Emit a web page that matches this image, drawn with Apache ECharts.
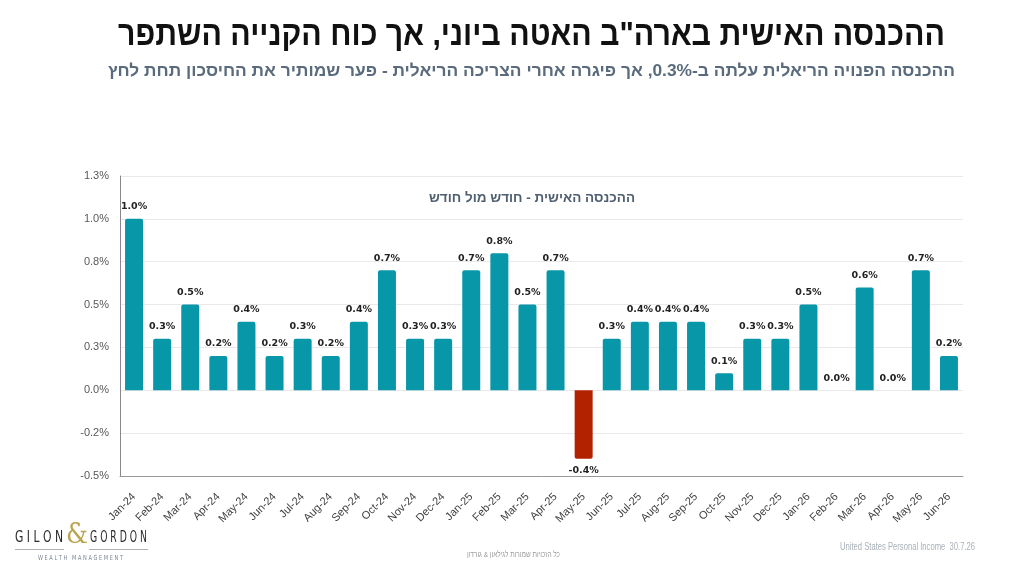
<!DOCTYPE html>
<html><head><meta charset="utf-8">
<script src="https://cdn.jsdelivr.net/npm/echarts@6/dist/echarts.min.js"></script>
<style>html,body{margin:0;padding:0;background:#fff}#c{width:1024px;height:576px}</style>
</head><body><div id="c"></div>
<script>
const categories = ['Jan-24','Feb-24','Mar-24','Apr-24','May-24','Jun-24','Jul-24','Aug-24','Sep-24','Oct-24','Nov-24','Dec-24',
  'Jan-25','Feb-25','Mar-25','Apr-25','May-25','Jun-25','Jul-25','Aug-25','Sep-25','Oct-25','Nov-25','Dec-25',
  'Jan-26','Feb-26','Mar-26','Apr-26','May-26','Jun-26'];
const values = [1.0,0.3,0.5,0.2,0.4,0.2,0.3,0.2,0.4,0.7,0.3,0.3,
  0.7,0.8,0.5,0.7,-0.4,0.3,0.4,0.4,0.4,0.1,0.3,0.3,
  0.5,0.0,0.6,0.0,0.7,0.2];
const yTickValues = [-0.5,-0.25,0,0.25,0.5,0.75,1.0,1.25];
const yTickLabels = ['-0.5%','-0.2%','0.0%','0.3%','0.5%','0.8%','1.0%','1.3%'];
const mainTitle = 'ההכנסה האישית בארה"ב האטה ביוני, אך כוח הקנייה השתפר';
const subTitle = 'ההכנסה הפנויה הריאלית עלתה ב-0.3%, אך פיגרה אחרי הצריכה הריאלית - פער שמותיר את החיסכון תחת לחץ';
const chartTitle = 'ההכנסה האישית - חודש מול חודש';
const sourceText = 'United States Personal Income  30.7.26';
const rightsText = 'כל הזכויות שמורות לגילאון & גורדון';
const logoLeft = 'G I L O N', logoAmp = '&', logoRight = 'G O R D O N', logoSub = 'W E A L T H   M A N A G E M E N T';

const RLE = '\u202B', PDF = '\u202C';
const rtl = s => RLE + s + PDF;
const yMin = -0.5, yMax = 1.25, yInt = 0.25;

const ctx = document.createElement('canvas').getContext('2d');
function measure(text, size, family, weight) {
  ctx.font = (weight || 'normal') + ' ' + size + 'px "' + family + '"';
  return ctx.measureText(text).width;
}
// text element squeezed horizontally to fit a target width
function fitText(text, x, y, width, size, family, weight, fill, align) {
  const w = measure(text, size, family, weight);
  return {
    type: 'text', x: x, y: y, scaleX: width / w, z: 10,
    style: {text: text, fontSize: size, fontFamily: family, fontWeight: weight || 'normal', fill: fill,
      align: align, verticalAlign: 'middle', textAlign: align, textVerticalAlign: 'middle'}
  };
}

const chart = echarts.init(document.getElementById('c'), null, {renderer: 'canvas'});
chart.setOption({
  backgroundColor: '#fff',
  animation: false,
  title: [
    {text: rtl(chartTitle), left: 527, textAlign: 'center', top: 186,
     textStyle: {fontSize: 13.5, fontWeight: 'bold', fontFamily: 'Liberation Sans', color: '#4f5f70'}}
  ],
  grid: {left: 120, right: 61, top: 176, bottom: 100, containLabel: false},
  xAxis: {
    type: 'category', data: categories,
    axisLine: {show: true, onZero: false, lineStyle: {color: '#999', width: 1}},
    axisTick: {show: false},
    axisLabel: {rotate: 45, interval: 0, fontSize: 11, color: '#404040', fontFamily: 'Liberation Sans', margin: 19}
  },
  yAxis: {
    type: 'value', min: yMin, max: yMax, interval: yInt,
    axisLine: {show: true, lineStyle: {color: '#888', width: 1}},
    axisTick: {show: false},
    splitLine: {lineStyle: {color: '#e9e9e9'}},
    axisLabel: {fontSize: 11, color: '#595959', fontFamily: 'Liberation Sans', margin: 11,
      formatter: v => yTickLabels[Math.round((v - yMin) / yInt)]}
  },
  series: [{
    type: 'bar',
    barCategoryGap: '36%',
    data: values.map(v => ({
      value: v,
      itemStyle: {color: v < 0 ? '#b32200' : '#0896a9', borderRadius: v < 0 ? [0,0,2,2] : [2,2,0,0]},
      label: {position: v < 0 ? 'bottom' : 'top'}
    })),
    label: {show: true, fontSize: 9.5, fontWeight: 'bold', color: '#222', fontFamily: 'DejaVu Sans', distance: 7,
      formatter: p => p.value.toFixed(1) + '%'}
  }],
  graphic: [
    fitText(rtl(mainTitle), 945, 36, 827, 34, 'Liberation Sans', 'bold', '#111', 'right'),
    fitText(rtl(subTitle), 955, 71, 847, 17, 'Liberation Sans', 'bold', '#5a6b7d', 'right'),
    fitText(logoLeft, 15, 538, 48, 15, 'DejaVu Sans', 'normal', '#2a2a2a', 'left'),
    fitText(logoAmp, 66, 536, 22, 28, 'DejaVu Serif', 'normal', '#b9a450', 'left'),
    fitText(logoRight, 90, 538, 57, 15, 'DejaVu Sans', 'normal', '#2a2a2a', 'left'),
    {type: 'line', shape: {x1: 15, y1: 549.5, x2: 64, y2: 549.5}, style: {stroke: '#b0b0b0', lineWidth: 1}},
    {type: 'line', shape: {x1: 89, y1: 549.5, x2: 148, y2: 549.5}, style: {stroke: '#b0b0b0', lineWidth: 1}},
    fitText(logoSub, 38, 558, 85, 7, 'DejaVu Sans', 'normal', '#7a8595', 'left'),
    fitText(sourceText, 975, 547, 135, 10, 'Liberation Sans', 'normal', '#a9b0b8', 'right'),
    fitText(rtl(rightsText), 560, 555, 93, 8, 'Liberation Sans', 'normal', '#9a9a9a', 'right')
  ]
});
</script></body></html>
